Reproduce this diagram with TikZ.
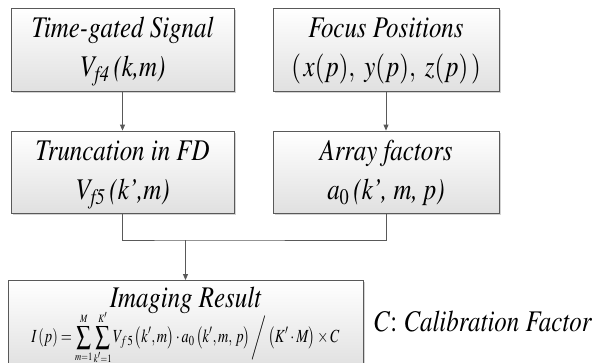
\documentclass[tikz,border=0pt]{standalone}
\usepackage[T1]{fontenc}
\usepackage{mathptmx}
\usetikzlibrary{arrows.meta,shadows}
\newcommand{\narrow}[1]{\scalebox{0.83}[1]{#1}}
\newcommand{\stagetext}[1]{\narrow{\begin{tabular}{@{}c@{}}#1\end{tabular}}}
\tikzset{
  stage/.style={draw=black!65, line width=0.8pt, top color=white, bottom color=black!12,
    drop shadow={shadow xshift=1.5pt, shadow yshift=-1.5pt, opacity=0.35},
    inner sep=0pt, font=\fontsize{30}{39}\selectfont\itshape},
  flow/.style={draw=black!65, line width=0.8pt},
  flowarrow/.style={flow, -{Triangle[length=6pt,width=5pt]}}
}
\begin{document}
\begin{tikzpicture}[x=1pt,y=-1pt]
    \useasboundingbox (0,0) rectangle (603,362);
    % upper row
    \node[stage, minimum width=223pt, minimum height=83pt] (signal) at (122.5,49.5)
        {\stagetext{Time-gated Signal\\V\textsubscript{f4}\,(k,m)}};
    \node[stage, minimum width=226pt, minimum height=83pt] (focus) at (386,49.5)
        {\stagetext{Focus Positions\\$(\,x(p),\ y(p),\ z(p)\,)$}};
    % middle row
    \node[stage, minimum width=223pt, minimum height=82pt] (trunc) at (122.5,172)
        {\stagetext{Truncation in FD\\V\textsubscript{f5}\,(k',m)}};
    \node[stage, minimum width=226pt, minimum height=82pt] (array) at (386,172)
        {\stagetext{Array factors\\a\textsubscript{\upshape 0}\,(k', m, p)}};
    % result
    \node[stage, minimum width=355pt, minimum height=85.7pt] (result) at (185.5,323.85)
        {\stagetext{Imaging Result\\[-9pt]
         {\fontsize{18.5}{20}\selectfont\scalebox{0.93}[1]{%
          $\displaystyle I\left(p\right)=\sum\limits_{\scriptscriptstyle m=1}^{\scriptscriptstyle M}
          \sum\limits_{\scriptscriptstyle k'=1}^{\scriptscriptstyle K'}V_{f\,5}\left(k',m\right)\cdot a_0\left(k',m,\,p\right)\bigg/\left(K'\cdot M\right)\times C$}}%
         \rule[-25pt]{0pt}{0pt}}};
    \node[anchor=base west, inner sep=0pt, font=\fontsize{30}{36}\selectfont] (calib) at (373,331)
        {\narrow{\textit{C}: \textit{Calibration Factor}}};
    \coordinate (join) at (185.5,240);
    % connectors
    \draw[flowarrow] (signal) -- (trunc);
    \draw[flowarrow] (focus) -- (array);
    \draw[flow] (trunc.south) |- (join) -| (array.south);
    \draw[flowarrow] (join) -- (result.north -| join);
\end{tikzpicture}
\end{document}
